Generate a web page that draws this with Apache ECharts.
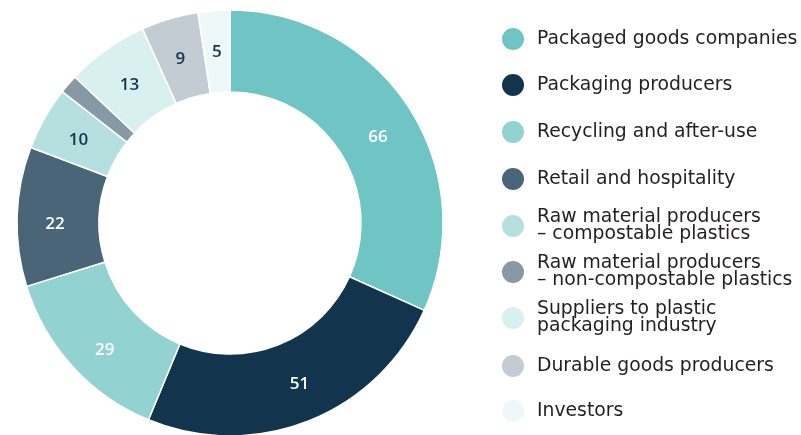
<!DOCTYPE html>
<html>
<head>
<meta charset="utf-8">
<script src="https://cdn.jsdelivr.net/npm/echarts@6/dist/echarts.min.js"></script>
<style>
  html, body { margin: 0; padding: 0; background: #fff; }
  #main { width: 801px; height: 435px; }
</style>
</head>
<body>
<div id="main"></div>
<script>
// stakeholder groups, clockwise from the top
const names = [
  'Packaged goods companies',
  'Packaging producers',
  'Recycling and after-use',
  'Retail and hospitality',
  'Raw material producers\n– compostable plastics',
  'Raw material producers\n– non-compostable plastics',
  'Suppliers to plastic\npackaging industry',
  'Durable goods producers',
  'Investors'
]
const counts = [66, 51, 29, 22, 10, 3, 13, 9, 5]
const colors = ['#6fc5c4', '#12344d', '#92d3d2', '#4a6478', '#b5e0df', '#8899a6', '#d9f0f0', '#c4ccd3', '#eef8f8']
const labelColors = ['#fff', '#fff', '#fff', '#fff', '#12344d', '#12344d', '#12344d', '#12344d', '#12344d']
// small nudges so the numbers sit where the original put them
const labelNudge = [[1, 9], [5, -2], [4, 9], [0, 6], [1, 3], [0, 0], [1, 5], [0, 4], [0, 4]]
const legendCenters = [38, 84, 131, 178, 226, 272, 318, 365, 410]

const font = '"DejaVu Sans", sans-serif'
const chart = echarts.init(document.getElementById('main'))

// one legend per item so two-line names keep the same row spacing
const legends = names.map((n, i) => ({
  data: [n],
  orient: 'vertical',
  left: 500,
  top: legendCenters[i] - (n.indexOf('\n') >= 0 ? 18 : 12),
  padding: 0,
  icon: 'circle',
  itemWidth: 24,
  itemHeight: 24,
  selectedMode: false,
  textStyle: {
    color: '#231f20',
    fontFamily: font,
    fontSize: 18.8,
    lineHeight: 17,
    padding: [0, 0, 0, 7]
  }
}))

chart.setOption({
  animation: false,
  legend: legends,
  series: [{
    type: 'pie',
    center: [230, 223],
    radius: [131, 213],
    startAngle: 90,
    clockwise: true,
    avoidLabelOverlap: false,
    itemStyle: {
      borderColor: '#fff',
      borderWidth: 1.5
    },
    label: {
      show: true,
      position: 'inside',
      fontFamily: '"Open Sans", sans-serif',
      fontSize: 17,
      fontWeight: 600
    },
    labelLine: { show: false },
    data: names.map((n, i) => ({
      name: n,
      value: counts[i],
      itemStyle: { color: colors[i] },
      label: {
        show: counts[i] > 3,
        color: labelColors[i],
        offset: labelNudge[i],
        formatter: '{c}'
      }
    }))
  }]
})
</script>
</body>
</html>
